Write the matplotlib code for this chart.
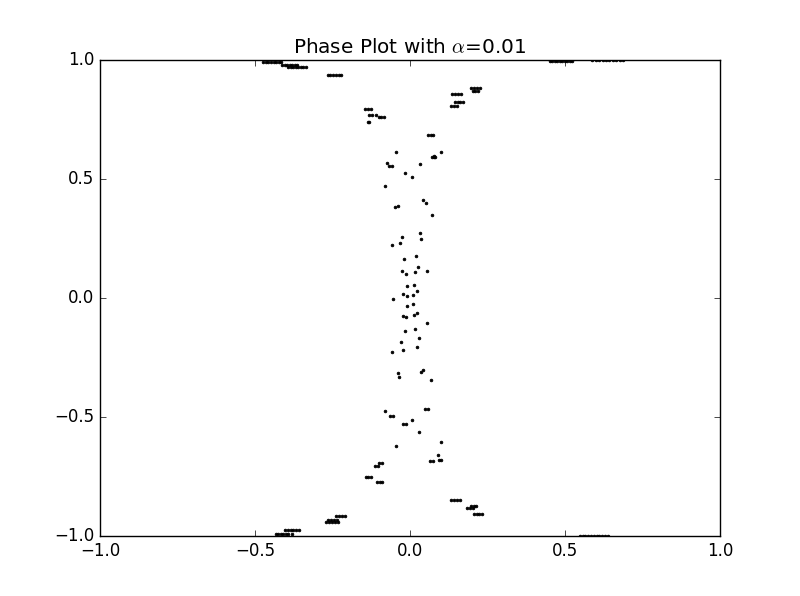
import matplotlib
matplotlib.use("Agg")
import matplotlib.pyplot as plt
import numpy as np

plt.style.use('classic')

# Horizontal runs of points near the edges: (y, list of x)
row_y = [0.990, 0.979, 0.971, 0.937,
         0.881, 0.870, 0.857, 0.822, 0.805,
         0.793, 0.768, 0.759, 0.738, 0.683, 0.590,
         0.993, 0.997,
         -0.913, -0.933, -0.941, -0.972, -0.989,
         -0.849, -0.880, -0.871, -0.905,
         -0.997,
         -0.749, -0.770, -0.693, -0.706, -0.682, -0.678, -0.493, -0.464, -0.527, 0.555]
row_x = [
    [-0.474, -0.466, -0.457, -0.449, -0.440, -0.432, -0.423, -0.415],
    [-0.412, -0.404, -0.396, -0.388, -0.380, -0.372, -0.364],
    [-0.392, -0.384, -0.376, -0.368, -0.360, -0.352, -0.344, -0.337],
    [-0.266, -0.257, -0.248, -0.239, -0.230, -0.221],
    [0.197, 0.207, 0.217, 0.227],
    [0.202, 0.211, 0.219],
    [0.135, 0.145, 0.156, 0.166],
    [0.146, 0.154, 0.162, 0.170],
    [0.132, 0.142, 0.152],
    [-0.146, -0.135, -0.125],
    [-0.131, -0.121, -0.111],
    [-0.101, -0.092, -0.083],
    [-0.137, -0.131],
    [0.059, 0.067, 0.075],
    [0.070, 0.076, 0.080],
    [0.451, 0.459, 0.467, 0.475, 0.483, 0.491, 0.499, 0.507, 0.515, 0.523],
    [0.588, 0.599, 0.610, 0.621, 0.632, 0.643, 0.654, 0.665, 0.676, 0.687],
    [-0.238, -0.229, -0.220, -0.211],
    [-0.264, -0.255, -0.246, -0.237],
    [-0.272, -0.262, -0.252, -0.242, -0.233],
    [-0.403, -0.394, -0.385, -0.376, -0.367, -0.358],
    [-0.433, -0.425, -0.417, -0.409, -0.401, -0.393, -0.382],
    [0.133, 0.143, 0.153, 0.160],
    [0.183, 0.193, 0.202],
    [0.196, 0.205, 0.214],
    [0.206, 0.215, 0.224, 0.232],
    [0.548, 0.557, 0.566, 0.575, 0.584, 0.593, 0.602, 0.611, 0.620, 0.629, 0.638],
    [-0.141, -0.134, -0.127],
    [-0.107, -0.098, -0.090],
    [-0.100, -0.090],
    [-0.112, -0.103],
    [0.066, 0.073],
    [0.095, 0.101],
    [-0.065, -0.056],
    [0.049, 0.058],
    [-0.021, -0.012],
    [-0.068, -0.059],
]

# Scattered single points in the central band
pts_x = [-0.045, 0.101, 0.078, -0.075, 0.032, -0.015, 0.0075, -0.080,
         0.043, 0.052, -0.047, -0.039, 0.070,
         0.031, -0.027, 0.035, -0.031, -0.057, 0.020, -0.018, 0.027, -0.025,
         0.056, 0.015, -0.012, 0.012, -0.009, 0.024, -0.022, 0.011, -0.009,
         -0.054, 0.011, -0.009, 0.024, 0.014, -0.022, -0.012, 0.056, 0.017,
         -0.015, 0.030, -0.030, 0.024, -0.024, -0.059, 0.042, 0.034, -0.040,
         -0.037, 0.067,
         -0.080, 0.0075, 0.030, 0.101, -0.045, 0.091]
pts_y = [0.612, 0.612, 0.594, 0.566, 0.562, 0.524, 0.507, 0.469,
         0.409, 0.398, 0.381, 0.384, 0.349,
         0.272, 0.255, 0.247, 0.230, 0.221, 0.175, 0.163, 0.129, 0.112,
         0.112, 0.108, 0.100, 0.053, 0.049, 0.028, 0.016, 0.011, 0.007,
         -0.006, -0.027, -0.035, -0.064, -0.073, -0.077, -0.081, -0.106, -0.132,
         -0.140, -0.169, -0.186, -0.207, -0.220, -0.228, -0.300, -0.312, -0.316,
         -0.333, -0.342,
         -0.476, -0.510, -0.560, -0.602, -0.619, -0.657]

xs = list(pts_x)
ys = list(pts_y)
for yv, xr in zip(row_y, row_x):
    xs.extend(xr)
    ys.extend([yv] * len(xr))

fig = plt.figure(figsize=(8, 5.96), dpi=100)
ax = fig.add_subplot(111)
ax.plot(xs, ys, 'k.', markersize=4)
ax.set_xlim(-1, 1)
ax.set_ylim(-1, 1)
ax.set_xticks([-1.0, -0.5, 0.0, 0.5, 1.0])
ax.set_yticks([-1.0, -0.5, 0.0, 0.5, 1.0])
ax.set_title(r'Phase Plot with $\alpha$=0.01')
fig.savefig('out.png', dpi=100)
